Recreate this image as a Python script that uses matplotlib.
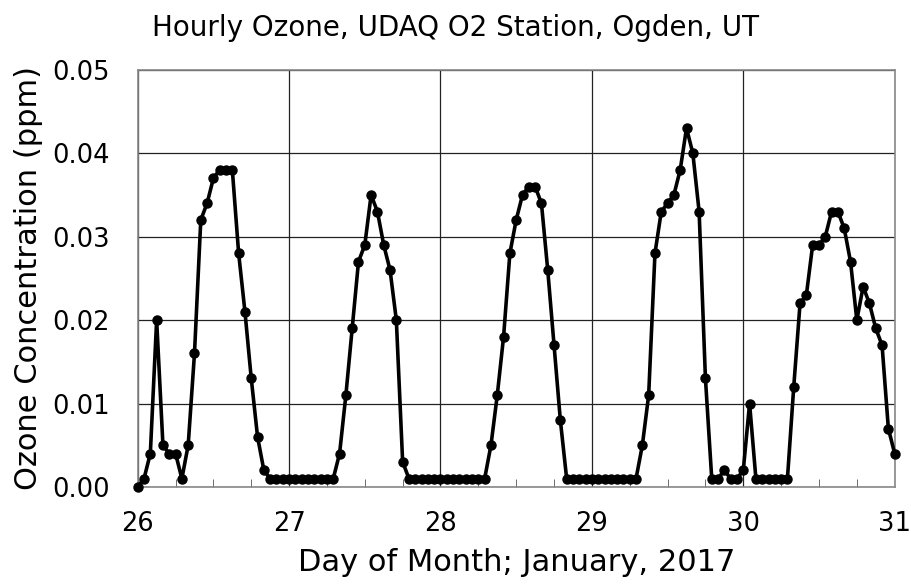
import numpy as np
import matplotlib
matplotlib.use("Agg")
import matplotlib.pyplot as plt
from matplotlib.ticker import MultipleLocator, FormatStrFormatter

# hourly ozone (ppm), 26 Jan 00:00 through 31 Jan 00:00
day26 = [0.000, 0.001, 0.004, 0.020, 0.005, 0.004, 0.004, 0.001, 0.005, 0.016,
         0.032, 0.034, 0.037, 0.038, 0.038, 0.038, 0.028, 0.021, 0.013, 0.006,
         0.002, 0.001, 0.001, 0.001]
day27 = [0.001, 0.001, 0.001, 0.001, 0.001, 0.001, 0.001, 0.001, 0.004, 0.011,
         0.019, 0.027, 0.029, 0.035, 0.033, 0.029, 0.026, 0.020, 0.003, 0.001,
         0.001, 0.001, 0.001, 0.001]
day28 = [0.001, 0.001, 0.001, 0.001, 0.001, 0.001, 0.001, 0.001, 0.005, 0.011,
         0.018, 0.028, 0.032, 0.035, 0.036, 0.036, 0.034, 0.026, 0.017, 0.008,
         0.001, 0.001, 0.001, 0.001]
day29 = [0.001, 0.001, 0.001, 0.001, 0.001, 0.001, 0.001, 0.001, 0.005, 0.011,
         0.028, 0.033, 0.034, 0.035, 0.038, 0.043, 0.040, 0.033, 0.013, 0.001,
         0.001, 0.002, 0.001, 0.001]
day30 = [0.002, 0.010, 0.001, 0.001, 0.001, 0.001, 0.001, 0.001, 0.012, 0.022,
         0.023, 0.029, 0.029, 0.030, 0.033, 0.033, 0.031, 0.027, 0.020, 0.024,
         0.022, 0.019, 0.017, 0.007]
day31 = [0.004]

ozone = day26 + day27 + day28 + day29 + day30 + day31
hours = np.arange(len(ozone))
day = 26 + hours / 24.0

plt.rcParams['font.family'] = ['DejaVu Sans']
fig = plt.figure(figsize=(9.12, 5.86), dpi=100)
ax = fig.add_axes([0.151, 0.169, 0.830, 0.712])

ax.plot(day, ozone, color="black", linewidth=2.6, marker="o", markersize=6.5,
        clip_on=False, zorder=3)

ax.set_xlim(26, 31)
ax.set_ylim(0, 0.05)
ax.xaxis.set_major_locator(MultipleLocator(1))
ax.xaxis.set_minor_locator(MultipleLocator(0.25))
ax.yaxis.set_major_locator(MultipleLocator(0.01))
ax.yaxis.set_major_formatter(FormatStrFormatter("%.2f"))
ax.grid(True, which="major", color="#222222", linewidth=0.9)
ax.tick_params(axis="both", which="major", length=0, labelsize=18.5)
ax.tick_params(axis="x", which="major", pad=17)
ax.tick_params(axis="y", which="major", pad=20)
ax.tick_params(axis="x", which="minor", direction="in", length=6, color="#555555")
for s in ax.spines.values():
    s.set_color("#888888")
    s.set_linewidth(1.2)

ax.set_xlabel("Day of Month; January, 2017", fontsize=22, labelpad=8)
ax.set_ylabel("Ozone Concentration (ppm)", fontsize=22, labelpad=7)
fig.text(0.5, 0.952, "Hourly Ozone, UDAQ O2 Station, Ogden, UT", fontsize=20,
         ha="center", va="center")

fig.savefig("out.png", dpi=100)
